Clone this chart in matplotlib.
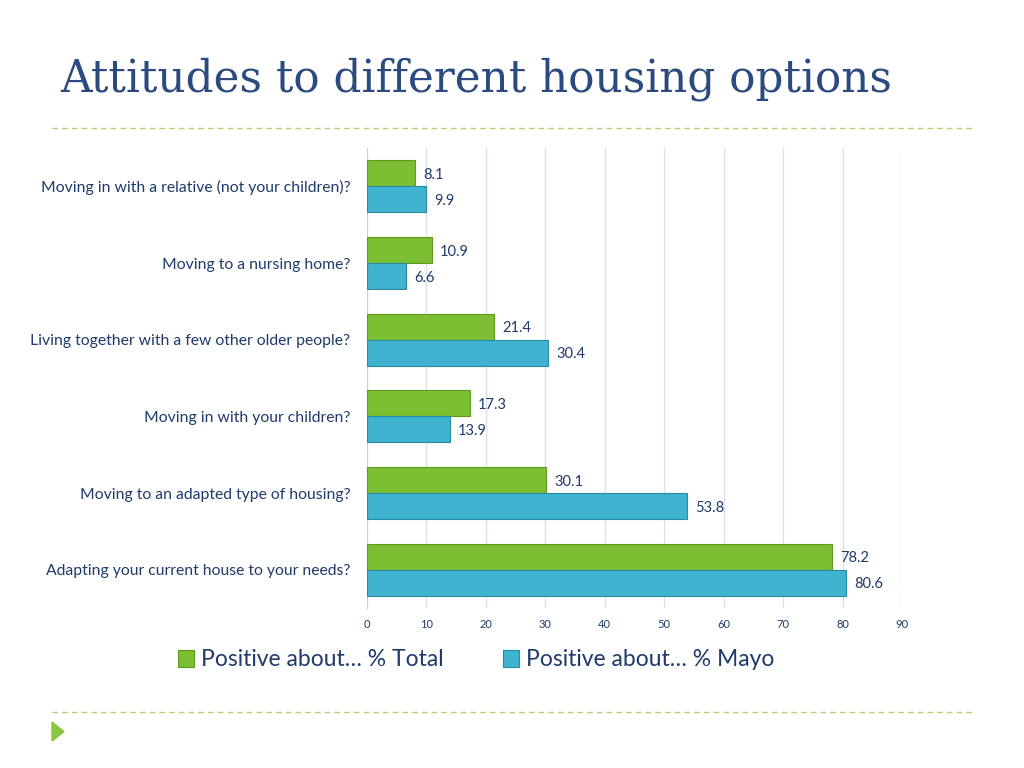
import numpy as np
import matplotlib.pyplot as plt
from matplotlib.lines import Line2D
from matplotlib.patches import Polygon

categories = ["Moving in with a relative (not your children)?",
              "Moving to a nursing home?",
              "Living together with a few other older people?",
              "Moving in with your children?",
              "Moving to an adapted type of housing?",
              "Adapting your current house to your needs?"]
total = [8.1, 10.9, 21.4, 17.3, 30.1, 78.2]
mayo = [9.9, 6.6, 30.4, 13.9, 53.8, 80.6]
series_names = ["Positive about\u2026 % Total", "Positive about\u2026 % Mayo"]
xticks = np.arange(0, 100, 10)

navy = "#1f3a6b"
green = "#7cbf33"
blue = "#3fb3cf"

plt.rcParams['font.family'] = ['Lato', 'DejaVu Sans']

fig = plt.figure(figsize=(10.24, 7.68), dpi=100)

# title and decorations
fig.text(60 / 1024, 1 - 79 / 768, "Attitudes to different housing options",
         fontsize=31.5, color="#2b4a80", family="DejaVu Serif", va="center")
for yy in [128, 712]:
    fig.add_artist(Line2D([52 / 1024, 972 / 1024], [1 - yy / 768] * 2,
                          color="#b9d06e", lw=1, ls=(0, (4, 3))))
fig.add_artist(Polygon([[52 / 1024, 1 - 722 / 768], [52 / 1024, 1 - 741 / 768],
                        [64 / 1024, 1 - 731.5 / 768]], closed=True,
                       color="#8cc63f", transform=fig.transFigure))

ax = fig.add_axes([367 / 1024, 1 - 608 / 768, 535 / 1024, 460 / 768])
y = np.arange(len(categories))
h = 0.34
bt = ax.barh(y - h / 2, total, height=h, color=green, edgecolor="#5e9a22", lw=0.8, zorder=3)
bm = ax.barh(y + h / 2, mayo, height=h, color=blue, edgecolor="#2a8aa5", lw=0.8, zorder=3)

for yi, v in zip(y, total):
    ax.text(v + 1.4, yi - h / 2 + 0.02, f"{v:.1f}", va="center", ha="left",
            fontsize=10.5, color=navy)
for yi, v in zip(y, mayo):
    ax.text(v + 1.4, yi + h / 2 + 0.02, f"{v:.1f}", va="center", ha="left",
            fontsize=10.5, color=navy)

ax.set_xlim(0, 90)
ax.set_ylim(len(categories) - 0.5, -0.5)
ax.set_xticks(xticks)
ax.set_xticklabels([str(t) for t in xticks], fontsize=8, color=navy)
ax.set_yticks(y)
ax.set_yticklabels(categories, fontsize=11.3, color=navy)
ax.tick_params(axis="y", length=0, pad=12)
ax.tick_params(axis="x", length=0, pad=8)
ax.xaxis.grid(True, color="#d8e2ec", lw=1, zorder=0)
for s in ["top", "right", "bottom"]:
    ax.spines[s].set_visible(False)
ax.spines["left"].set_color("#c8d0d8")

leg = fig.legend([bt, bm], series_names, loc="center", ncol=2,
                 bbox_to_anchor=(476 / 1024, 1 - 660 / 768), frameon=False,
                 fontsize=16.5, handlelength=0.7, handleheight=0.7,
                 handletextpad=0.3, columnspacing=2.6)
for t in leg.get_texts():
    t.set_color(navy)

plt.savefig("out.png", dpi=100)
